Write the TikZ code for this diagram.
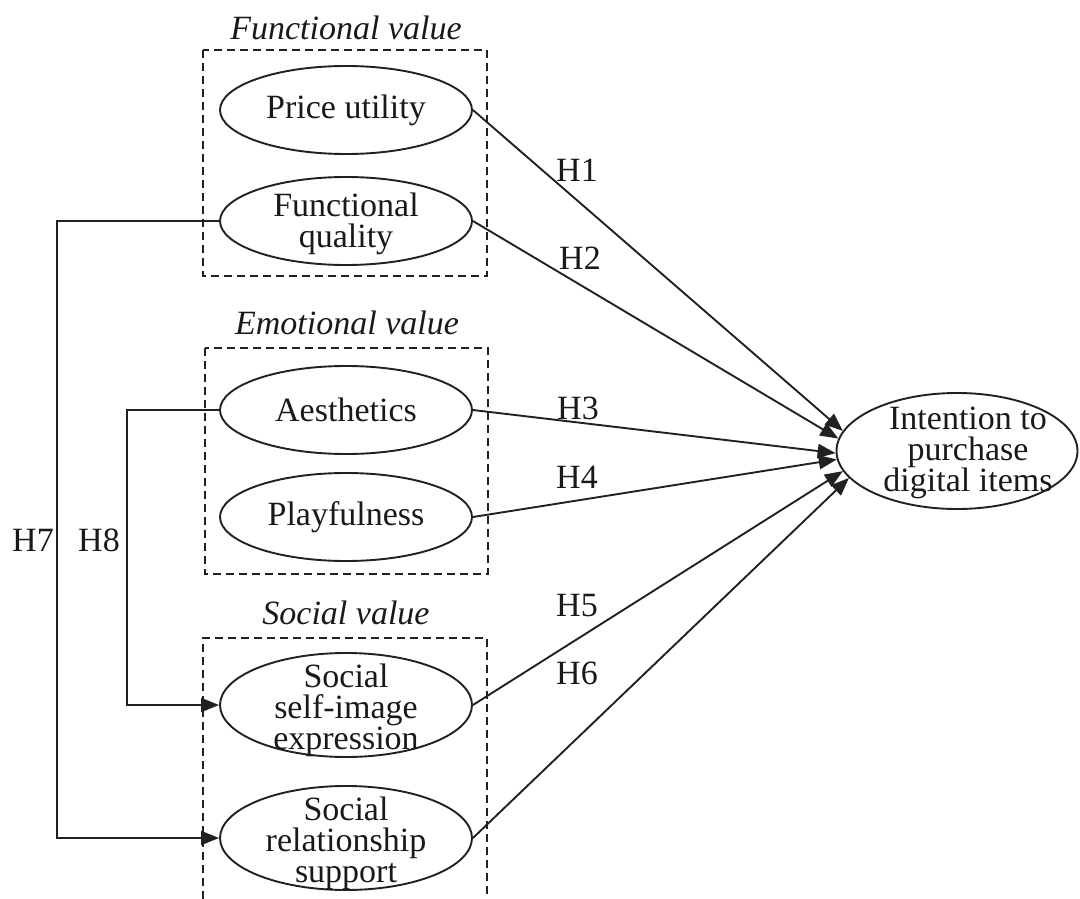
\documentclass[tikz,border=0pt]{standalone}
\usepackage{fontspec}
\setmainfont{Liberation Serif}
\usetikzlibrary{arrows.meta,shapes.geometric}
\definecolor{lc}{gray}{0.13}
\begin{document}
\begin{tikzpicture}[x=1pt,y=-1pt,
  ell/.style={draw=lc, ellipse, line width=1.9pt, minimum width=252pt, minimum height=88pt, inner sep=0pt},
  tallell/.style={ell, minimum height=104pt},
  txt/.style={font=\fontsize{34}{31}\selectfont, align=center, inner sep=0pt, text=black!90},
  ttl/.style={font=\fontsize{34}{31}\selectfont\itshape, inner sep=0pt, anchor=base, text=black!90},
  grp/.style={draw=lc, dash pattern=on 8pt off 5pt, line width=1.9pt},
  link/.style={draw=lc, line width=1.9pt, -{Triangle[length=18pt,width=14pt]}},
  hyp/.style={font=\fontsize{34}{31}\selectfont, inner sep=0pt, text=black!90}
]
\useasboundingbox (0,0) rectangle (1080,899);

% group boxes
\draw[grp] (203,50) rectangle (487,276);
\draw[grp] (205,348) rectangle (488,574);
\draw[grp] (203,899) -- (203,638) -- (487,638) -- (487,899);

% titles
\node[ttl] (tf) at (346,40) {Functional value};
\node[ttl] (te) at (347,334) {Emotional value};
\node[ttl] (ts) at (346,624) {Social value};

% ellipses
\node[ell] (pu) at (346,110) {};
\node[ell] (fq) at (346,221) {};
\node[ell] (ae) at (346,410) {};
\node[ell] (pf) at (346,517) {};
\node[tallell] (ssi) at (346,705) {};
\node[tallell] (srs) at (346,838) {};
\node[ellipse, draw=lc, line width=1.9pt, minimum width=241pt, minimum height=116pt, inner sep=0pt] (tg) at (957,451) {};

% texts
\node[txt] (put) at (pu) {Price utility};
\node[txt] (fqt) at ([yshift=-3pt]fq.center) {Functional\\quality};
\node[txt] (aet) at (ae) {Aesthetics};
\node[txt] (pft) at (pf) {Playfulness};
\node[txt] (ssit) at ([yshift=-5pt]ssi.center) {Social\\self-image\\expression};
\node[txt] (srst) at ([yshift=-5pt]srs.center) {Social\\relationship\\support};
\node[txt] (tgt) at (968,453) {Intention to\\purchase\\digital items};

% main paths
\draw[link] (pu.east) -- (tg.170);
\draw[link] (fq.east) -- (tg.174);
\draw[link] (ae.east) -- (tg.181);
\draw[link] (pf.east) -- (tg.184);
\draw[link] (ssi.east) -- (tg.190);
\draw[link] (srs.east) -- (tg.194);

% H7 and H8
\coordinate (h7c) at (57,221);
\coordinate (h8c) at (127,410);
\draw[link] (fq.west) -- (h7c) |- (srs.west);
\draw[link] (ae.west) -- (h8c) |- (ssi.west);

% labels
\node[hyp] (h1) at (577,170) {H1};
\node[hyp] (h2) at (580,258) {H2};
\node[hyp] (h3) at (578,408) {H3};
\node[hyp] (h4) at (577,477) {H4};
\node[hyp] (h5) at (577,606) {H5};
\node[hyp] (h6) at (577,673) {H6};
\node[hyp] (h7) at (33,540) {H7};
\node[hyp] (h8) at (99,540) {H8};
\end{tikzpicture}
\end{document}
